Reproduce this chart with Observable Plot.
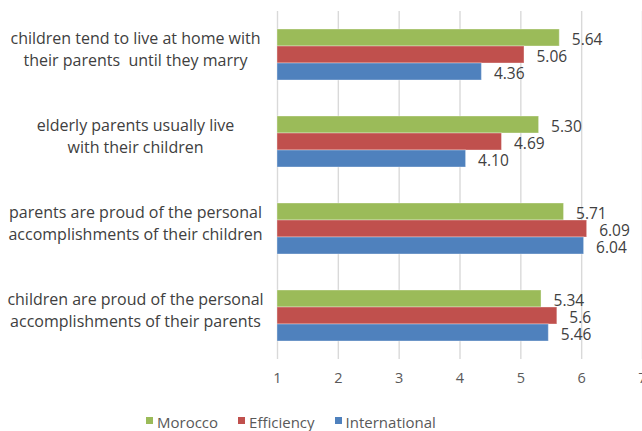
<!DOCTYPE html>
<html>
<head>
<meta charset="utf-8">
<script src="https://cdn.jsdelivr.net/npm/d3@7"></script>
<script src="https://cdn.jsdelivr.net/npm/@observablehq/plot@0.6"></script>
<style>
  html, body { margin: 0; padding: 0; background: #fff; }
  body { width: 642px; height: 431px; overflow: hidden; font-family: "Open Sans", sans-serif; }
  #legend { display: flex; align-items: center; margin-left: 146px; margin-top: 17px; font-size: 15px; color: #595959; line-height: 20px; }
  #legend .item { display: flex; align-items: center; margin-right: 20px; }
  #legend .sw { width: 7px; height: 7px; margin-right: 4px; margin-top: -3px; }
</style>
</head>
<body>
<div id="chart"></div>
<script>
const categories = [
  "children tend to live at home with\ntheir parents  until they marry",
  "elderly parents usually live\nwith their children",
  "parents are proud of the personal\naccomplishments of their children",
  "children are proud of the personal\naccomplishments of their parents"
];
const series = ["Morocco", "Efficiency", "International"];
const colors = ["#9BBB59", "#C0504D", "#4F81BD"];
const morocco = [5.64, 5.30, 5.71, 5.34];
const efficiency = [5.06, 4.69, 6.09, 5.6];
const international = [4.36, 4.10, 6.04, 5.46];
const moroccoLabels = ["5.64", "5.30", "5.71", "5.34"];
const efficiencyLabels = ["5.06", "4.69", "6.09", "5.6"];
const internationalLabels = ["4.36", "4.10", "6.04", "5.46"];
const xTicks = [1, 2, 3, 4, 5, 6, 7];

const valuesBySeries = [morocco, efficiency, international];
const labelsBySeries = [moroccoLabels, efficiencyLabels, internationalLabels];
const data = [];
categories.forEach((c, i) => {
  series.forEach((s, j) => {
    data.push({category: c, series: s, value: valuesBySeries[j][i], label: labelsBySeries[j][i]});
  });
});

const plot = Plot.plot({
  width: 642,
  height: 395,
  marginLeft: 277,
  marginRight: 0,
  marginTop: 10,
  marginBottom: 36,
  style: {fontFamily: "Open Sans, sans-serif", fontSize: "14.5px", color: "#595959", background: "#fff"},
  x: {domain: [xTicks[0], xTicks[xTicks.length - 1]], ticks: xTicks, tickFormat: d => String(d), tickSize: 0, tickPadding: 13, label: null},
  y: {domain: series, axis: null, paddingInner: 0, paddingOuter: 0.917},
  fy: {domain: categories, axis: null, padding: 0},
  color: {domain: series, range: colors},
  marks: [
    Plot.gridX(xTicks, {stroke: "#d9d9d9", strokeOpacity: 1, strokeWidth: 1.4}),
    Plot.barX(data, {fy: "category", y: "series", x1: xTicks[0], x2: "value", fill: "series", stroke: "#ffffff", strokeOpacity: 0.35, strokeWidth: 1}),
    Plot.text(data, {fy: "category", y: "series", x: "value", text: "label", textAnchor: "start", dx: 12, dy: 2, fontSize: 15.5, fill: "#404040"}),
    Plot.text(categories, {fy: d => d, text: d => d, frameAnchor: "left", dx: -142, dy: -7, textAnchor: "middle", lineHeight: 1.35, fontSize: 16, fill: "#404040", ariaLabel: "catlabel"})
  ]
});
document.getElementById("chart").appendChild(plot);

// align each wrapped category label block to the right, next to the axis (as in the original)
plot.querySelectorAll('g[aria-label="catlabel"] text').forEach(t => {
  const r = t.getBoundingClientRect();
  const delta = 260 - r.right;
  t.setAttribute("transform", `translate(${delta},0) ` + (t.getAttribute("transform") || ""));
});

const legend = document.createElement("div");
legend.id = "legend";
series.forEach((s, j) => {
  const item = document.createElement("div");
  item.className = "item";
  const sw = document.createElement("span");
  sw.className = "sw";
  sw.style.background = colors[j];
  const lab = document.createElement("span");
  lab.textContent = s;
  item.appendChild(sw);
  item.appendChild(lab);
  legend.appendChild(item);
});
document.body.appendChild(legend);
</script>
</body>
</html>
